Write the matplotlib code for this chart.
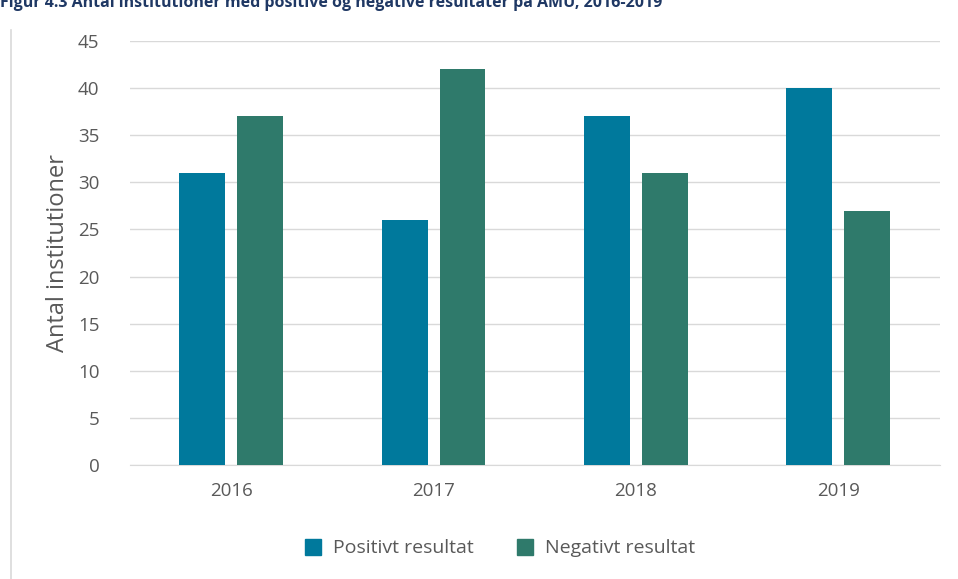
import matplotlib.pyplot as plt
import numpy as np
from matplotlib.lines import Line2D

years = ['2016', '2017', '2018', '2019']
positive = [31, 26, 37, 40]
negative = [37, 42, 31, 27]
yticks = [0, 5, 10, 15, 20, 25, 30, 35, 40, 45]

plt.rcParams['font.family'] = ['Open Sans', 'DejaVu Sans']
text_col = '#595959'
grid_col = '#D9D9D9'

fig = plt.figure(figsize=(9.58, 5.79), dpi=100)
ax = fig.add_axes([0.1357, 0.1969, 0.845, 0.7323])

x = np.arange(len(years))
w = 0.227
ax.bar(x - 0.143, positive, w, color='#00799C', label='Positivt resultat', zorder=3)
ax.bar(x + 0.143, negative, w, color='#2F7A6B', label='Negativt resultat', zorder=3)

ax.set_xlim(-0.5, 3.5)
ax.set_ylim(0, 45)
ax.set_yticks(yticks)
ax.set_xticks(x)
ax.set_xticklabels(years)
ax.tick_params(length=0, labelsize=13.5, colors=text_col, pad=12)
ax.tick_params(axis='y', pad=22)
ax.yaxis.grid(True, color=grid_col, lw=1, zorder=0)
for s in ['top', 'right', 'left']:
    ax.spines[s].set_visible(False)
ax.spines['bottom'].set_color(grid_col)
ax.set_ylabel('Antal institutioner', fontsize=17, color=text_col, labelpad=6)

handles = [Line2D([], [], marker='s', ls='', markersize=11, color='#00799C'),
           Line2D([], [], marker='s', ls='', markersize=11, color='#2F7A6B')]
fig.legend(handles, ['Positivt resultat', 'Negativt resultat'], loc='center',
           bbox_to_anchor=(0.516, 0.053), ncol=2, frameon=False, fontsize=14,
           labelcolor=text_col, handletextpad=0.05, columnspacing=1.6)

fig.add_artist(Line2D([0.0115, 0.0115], [0, 0.948], color=grid_col, lw=1.2))
fig.text(0.0, 1.0 - 7 / 579, 'Figur 4.3 Antal institutioner med positive og negative resultater på AMU, 2016-2019',
         fontsize=11.5, fontweight='bold', color='#1F3864', ha='left', va='baseline')

fig.savefig('out.png', dpi=100)
